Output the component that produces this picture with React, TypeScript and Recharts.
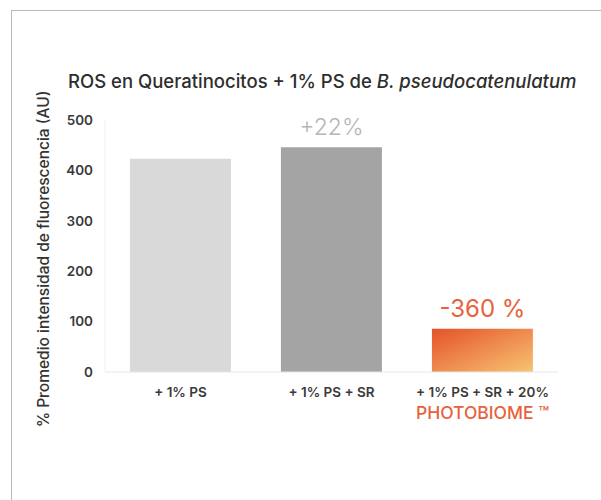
import { BarChart, Bar, XAxis, YAxis, Cell, LabelList } from 'recharts';

const categories = ['+ 1% PS', '+ 1% PS + SR', '+ 1% PS + SR + 20%'];
const subLabels = ['', '', 'PHOTOBIOME ™'];
const rosValues = [423, 446, 86];
const changeLabels = ['', '+22%', '-360 %'];
const yTicks = [0, 100, 200, 300, 400, 500];

const FONT = 'Inter, "Noto Sans", sans-serif';
const ORANGE = '#e8613c';
const barColors = ['#d9d9d9', '#a4a4a4', 'url(#photoGrad)'];
const labelColors = ['#b6b6b6', '#b6b6b6', ORANGE];
const labelWeights = [300, 300, 400];
const labelSizes = [23, 23, 24];

const chartData = categories.map((name, i) => ({
  name,
  sub: subLabels[i],
  value: rosValues[i],
  change: changeLabels[i],
}));

function CategoryTick({ x, y, payload, index }: any) {
  const sub = subLabels[index];
  return (
    <g transform={`translate(${x},${y})`}>
      <text textAnchor="middle" dy={17} fontSize={13.5} fontWeight={600} fill="#3a3a3a" fontFamily={FONT}>
        {payload.value}
      </text>
      {sub && (
        <text textAnchor="middle" dy={39} fontSize={17.5} fontWeight={500} fill={ORANGE} fontFamily={FONT}>
          {sub}
        </text>
      )}
    </g>
  );
}

function ChangeLabel({ x, y, width, index }: any) {
  const text = changeLabels[index];
  if (!text) return null;
  return (
    <text
      x={x + width / 2}
      y={y - 12}
      textAnchor="middle"
      fontSize={labelSizes[index]}
      fontWeight={labelWeights[index]}
      fill={labelColors[index]}
      fontFamily={FONT}
    >
      {text}
    </text>
  );
}

function AxisTitle() {
  return (
    <text
      x={0}
      y={0}
      transform="translate(49,259) rotate(-90)"
      textAnchor="middle"
      fontSize={15.5}
      fontWeight={500}
      fill="#333"
      fontFamily={FONT}
    >
      % Promedio intensidad de fluorescencia (AU)
    </text>
  );
}

export default function App() {
  return (
    <div style={{ position: 'absolute', top: 0, left: 0, width: 601, height: 500, background: '#fff', overflow: 'hidden' }}>
      <div
        style={{
          position: 'absolute',
          top: 10,
          left: 11,
          width: 600,
          height: 500,
          borderTop: '1px solid #b9b9b9',
          borderLeft: '1px solid #b9b9b9',
        }}
      />
      <div
        style={{
          position: 'absolute',
          top: 70,
          left: 68,
          fontFamily: FONT,
          fontSize: 18.5,
          fontWeight: 500,
          color: '#2e2e2e',
          whiteSpace: 'nowrap',
        }}
      >
        ROS en Queratinocitos + 1% PS de <i>B. pseudocatenulatum</i>
      </div>
      <BarChart
        width={601}
        height={500}
        data={chartData}
        margin={{ top: 120, right: 43, bottom: 68, left: 45 }}
        barCategoryGap="16.5%"
        style={{ position: 'absolute', top: 0, left: 0 }}
      >
        <defs>
          <linearGradient id="photoGrad" x1="0" y1="0" x2="1" y2="1">
            <stop offset="0%" stopColor="#e4522a" />
            <stop offset="100%" stopColor="#f8c472" />
          </linearGradient>
        </defs>
        <XAxis
          dataKey="name"
          height={60}
          axisLine={{ stroke: '#e6e6e6' }}
          tickLine={false}
          interval={0}
          tick={<CategoryTick />}
        />
        <YAxis
          width={60}
          domain={[0, 500]}
          ticks={yTicks}
          axisLine={{ stroke: '#f2f2f2' }}
          tickLine={false}
          tickSize={0}
          tickMargin={12}
          tick={{ fontSize: 13.5, fontWeight: 600, fill: '#3a3a3a', fontFamily: FONT }}
          label={<AxisTitle />}
        />
        <Bar dataKey="value" isAnimationActive={false}>
          {chartData.map((entry, i) => (
            <Cell key={`cell-${entry.name}`} fill={barColors[i]} />
          ))}
          <LabelList dataKey="change" content={<ChangeLabel />} />
        </Bar>
      </BarChart>
    </div>
  );
}
